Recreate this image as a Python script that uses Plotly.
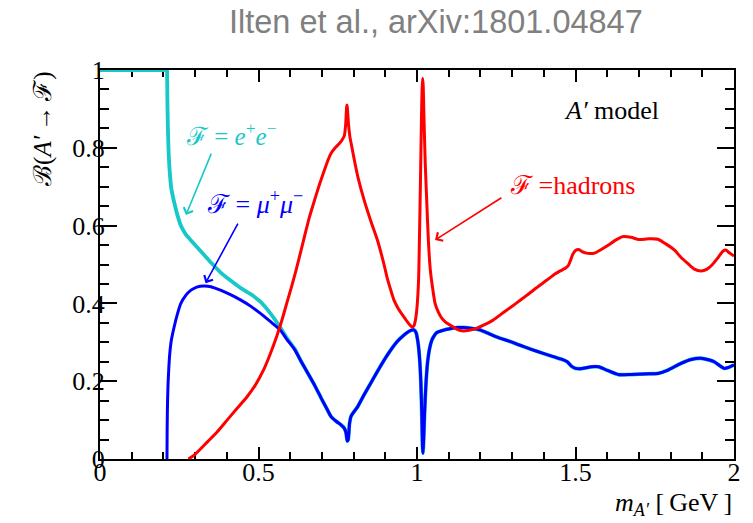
import plotly.graph_objects as go

# Branching fractions of a dark photon A' versus its mass (GeV)

# e+e- channel below the point where it merges with mu+mu-
ee_mass = [0.0, 0.1, 0.2, 0.2113, 0.2116, 0.2125, 0.2134, 0.216, 0.219, 0.225,
           0.234, 0.245, 0.255, 0.27, 0.287, 0.30, 0.328, 0.35, 0.38, 0.41,
           0.443, 0.475, 0.505, 0.535, 0.568, 0.59, 0.615]
ee_br = [1.0, 1.0, 1.0, 1.0, 0.99, 0.93, 0.88, 0.80, 0.75, 0.695,
         0.66, 0.625, 0.60, 0.578, 0.562, 0.55, 0.525, 0.505, 0.48, 0.46,
         0.44, 0.424, 0.405, 0.377, 0.339, 0.31, 0.282]

# mu+mu- channel
mm_mass = [0.2113, 0.2118, 0.2125, 0.2135, 0.215, 0.2175, 0.22, 0.225, 0.234, 0.245,
           0.255, 0.27, 0.287, 0.305, 0.328, 0.35, 0.38, 0.41, 0.443, 0.475,
           0.505, 0.535, 0.568, 0.59, 0.615, 0.635, 0.656, 0.678, 0.698, 0.715,
           0.729, 0.745, 0.760, 0.770, 0.776, 0.780, 0.783, 0.787, 0.792, 0.80,
           0.8125, 0.833, 0.854, 0.875, 0.896, 0.917, 0.9375, 0.958, 0.979, 0.99,
           0.997, 1.003, 1.008, 1.012, 1.015, 1.0175, 1.019, 1.021, 1.024, 1.028,
           1.033, 1.04, 1.047, 1.055, 1.0625, 1.083, 1.104, 1.125, 1.146, 1.17,
           1.198, 1.225, 1.25, 1.29, 1.323, 1.36, 1.396, 1.43, 1.458, 1.474,
           1.488, 1.50, 1.515, 1.531, 1.55, 1.573, 1.60, 1.635, 1.665, 1.698,
           1.73, 1.76, 1.79, 1.833, 1.865, 1.896, 1.92, 1.9375, 1.955, 1.969,
           1.985, 2.0]
mm_br = [0.0, 0.07, 0.12, 0.16, 0.20, 0.24, 0.27, 0.305, 0.34, 0.375,
         0.40, 0.42, 0.434, 0.442, 0.445, 0.443, 0.434, 0.423, 0.409, 0.393,
         0.375, 0.355, 0.332, 0.307, 0.280, 0.250, 0.220, 0.188, 0.156, 0.130,
         0.109, 0.097, 0.088, 0.080, 0.068, 0.046, 0.05, 0.09, 0.11, 0.12,
         0.134, 0.165, 0.195, 0.225, 0.254, 0.280, 0.302, 0.318, 0.330, 0.332,
         0.325, 0.300, 0.260, 0.200, 0.120, 0.030, 0.015, 0.05, 0.12, 0.19,
         0.246, 0.285, 0.306, 0.318, 0.325, 0.331, 0.335, 0.338, 0.338, 0.336,
         0.332, 0.323, 0.314, 0.303, 0.293, 0.282, 0.272, 0.263, 0.256, 0.250,
         0.238, 0.233, 0.232, 0.234, 0.237, 0.237, 0.228, 0.217, 0.217, 0.218,
         0.219, 0.220, 0.228, 0.246, 0.256, 0.259, 0.255, 0.250, 0.240, 0.233,
         0.236, 0.242]

# hadronic channel
had_mass = [0.279, 0.30, 0.339, 0.37, 0.401, 0.43, 0.464, 0.49, 0.516, 0.537,
            0.557, 0.575, 0.589, 0.605, 0.62, 0.646, 0.66, 0.677, 0.692, 0.708,
            0.72, 0.729, 0.742, 0.755, 0.765, 0.771, 0.775, 0.778, 0.7795, 0.781,
            0.784, 0.788, 0.795, 0.802, 0.815, 0.833, 0.855, 0.875, 0.896, 0.906,
            0.917, 0.927, 0.942, 0.958, 0.972, 0.984, 0.99, 0.995, 1.0, 1.005,
            1.008, 1.011, 1.014, 1.016, 1.0177, 1.0195, 1.022, 1.026, 1.031, 1.036,
            1.042, 1.05, 1.057, 1.067, 1.078, 1.09, 1.109, 1.125, 1.146, 1.165,
            1.1875, 1.215, 1.24, 1.275, 1.3125, 1.345, 1.375, 1.41, 1.4375, 1.46,
            1.469, 1.477, 1.484, 1.492, 1.50, 1.512, 1.521, 1.531, 1.545, 1.5625,
            1.58, 1.604, 1.625, 1.651, 1.675, 1.70, 1.73, 1.76, 1.785, 1.8125,
            1.833, 1.854, 1.875, 1.896, 1.915, 1.932, 1.95, 1.965, 1.974, 1.985,
            2.0]
had_br = [0.0, 0.012, 0.044, 0.07, 0.100, 0.128, 0.160, 0.19, 0.229, 0.27,
          0.314, 0.36, 0.400, 0.445, 0.49, 0.575, 0.62, 0.666, 0.705, 0.743,
          0.77, 0.786, 0.80, 0.811, 0.822, 0.832, 0.86, 0.905, 0.91, 0.895,
          0.86, 0.83, 0.80, 0.77, 0.72, 0.666, 0.61, 0.563, 0.50, 0.465,
          0.435, 0.409, 0.385, 0.366, 0.35, 0.340, 0.342, 0.357, 0.39, 0.46,
          0.58, 0.72, 0.87, 0.95, 0.979, 0.96, 0.88, 0.76, 0.657, 0.56,
          0.486, 0.435, 0.400, 0.378, 0.362, 0.352, 0.342, 0.334, 0.329, 0.331,
          0.336, 0.346, 0.357, 0.378, 0.400, 0.42, 0.439, 0.46, 0.477, 0.487,
          0.491, 0.497, 0.510, 0.527, 0.536, 0.538, 0.533, 0.530, 0.528, 0.530,
          0.538, 0.550, 0.562, 0.572, 0.570, 0.564, 0.566, 0.565, 0.553, 0.537,
          0.518, 0.503, 0.488, 0.483, 0.488, 0.500, 0.518, 0.534, 0.537, 0.530,
          0.522]

# above ~0.63 GeV the e+e- curve lies on top of the mu+mu- curve
join = next(i for i, m in enumerate(mm_mass) if m > ee_mass[-1])
ee_mass_full = ee_mass + mm_mass[join:]
ee_br_full = ee_br + mm_br[join:]

CYAN = "#17c8c8"
BLUE = "#0000ff"
RED = "#ff0000"
SERIF = "Liberation Serif"
SMOOTH = 0.6

fig = go.Figure()
fig.add_trace(go.Scatter(x=ee_mass_full, y=ee_br_full, mode="lines",
                         line=dict(color=CYAN, width=3.8, shape="spline", smoothing=SMOOTH),
                         name="e+e-"))
fig.add_trace(go.Scatter(x=mm_mass, y=mm_br, mode="lines",
                         line=dict(color=BLUE, width=3, shape="spline", smoothing=SMOOTH),
                         name="mu+mu-"))
fig.add_trace(go.Scatter(x=had_mass, y=had_br, mode="lines",
                         line=dict(color=RED, width=3, shape="spline", smoothing=SMOOTH),
                         name="hadrons"))

axis_common = dict(
    showline=True, linecolor="black", linewidth=2, mirror="allticks",
    ticks="inside", tickcolor="black", tickwidth=1.5,
    showgrid=False, zeroline=False, layer="below traces",
    tickfont=dict(family=SERIF, size=26, color="black"),
)
fig.update_xaxes(range=[0, 2], tick0=0, dtick=0.5, ticklen=12, ticklabelstandoff=-11,
                 minor=dict(dtick=0.1, ticklen=7, ticks="inside",
                            tickcolor="black", tickwidth=1.5),
                 **axis_common)
fig.update_yaxes(range=[0, 1], tick0=0, dtick=0.2, ticklen=17, ticklabelstandoff=-12,
                 minor=dict(dtick=0.05, ticklen=9, ticks="inside",
                            tickcolor="black", tickwidth=1.5),
                 **axis_common)

notes = [
    dict(text="ℱ = <i>e</i><sup>+</sup><i>e</i><sup>−</sup>", x=0.416, y=0.835, color=CYAN, size=25),
    dict(text="ℱ = <i>μ</i><sup>+</sup><i>μ</i><sup>−</sup>", x=0.4875, y=0.66, color=BLUE, size=26),
    dict(text="ℱ =hadrons", x=1.49, y=0.702, color=RED, size=26),
    dict(text="<i>A′</i> model", x=1.6125, y=0.895, color="black", size=26),
]
for n in notes:
    fig.add_annotation(x=n["x"], y=n["y"], xref="x", yref="y", text=n["text"],
                       showarrow=False, font=dict(family=SERIF, size=n["size"], color=n["color"]))

arrows = [
    dict(tail=(0.353, 0.789), head=(0.271, 0.627), color=CYAN),
    dict(tail=(0.4375, 0.609), head=(0.333, 0.452), color=BLUE),
    dict(tail=(1.271, 0.674), head=(1.057, 0.563), color=RED),
]
for a in arrows:
    fig.add_annotation(x=a["head"][0], y=a["head"][1], ax=a["tail"][0], ay=a["tail"][1],
                       xref="x", yref="y", axref="x", ayref="y", text="",
                       showarrow=True, arrowhead=4, arrowsize=1.2, arrowwidth=1.6,
                       arrowcolor=a["color"])

# axis titles
fig.add_annotation(xref="paper", yref="paper", x=-0.09, y=1.0, xanchor="center", yanchor="top",
                   text="ℬ(<i>A′</i>\u2009→\u2009ℱ)", textangle=-90, showarrow=False,
                   font=dict(family=SERIF, size=25, color="black"))
fig.add_annotation(xref="paper", yref="paper", x=1.0, y=-0.115, xanchor="right", yanchor="middle",
                   text="<i>m</i><sub><i>A′</i></sub> [\u2009GeV\u2009]", showarrow=False,
                   font=dict(family=SERIF, size=26, color="black"))

# header line
fig.add_annotation(xref="paper", yref="paper", x=(439 - 100) / 640, y=1.0 + 48 / 389,
                   xanchor="center", yanchor="middle",
                   text="Ilten et al., arXiv:1801.04847", showarrow=False,
                   font=dict(family="Liberation Sans", size=32.5, color="#808080"))

fig.update_layout(
    width=753, height=523,
    margin=dict(l=100, r=13, t=70, b=64),
    paper_bgcolor="white", plot_bgcolor="white",
    showlegend=False,
)

fig.write_html("out.html")
